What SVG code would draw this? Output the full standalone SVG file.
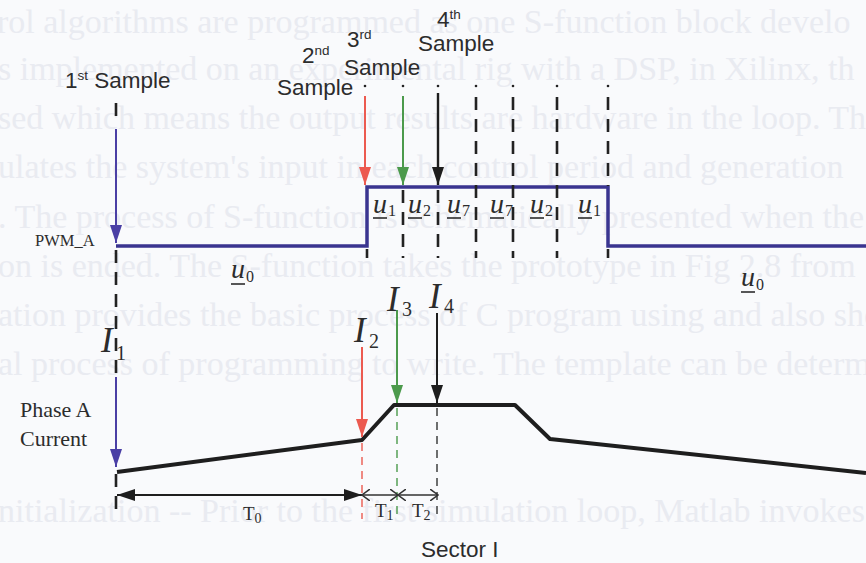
<svg xmlns="http://www.w3.org/2000/svg" width="866" height="563" viewBox="0 0 866 563">
<style>
.bg{font-family:"Liberation Serif","Times New Roman",serif;font-size:34px;fill:#e9ebf1}
.sans{font-family:"Liberation Sans",Arial,sans-serif;font-size:22.5px;fill:#2c2c2c}
.sup{font-size:13.5px}
.serif{font-family:"Liberation Serif","Times New Roman",serif;fill:#2c2c2c}
.u{font-style:italic;font-size:28px}
.sub{font-size:16px}
.I{font-style:italic;font-size:35px}
.isub{font-size:20px}
.dash{stroke:#222;stroke-width:2.6;stroke-dasharray:13 9;fill:none}
.thin{stroke-width:1.4;stroke-dasharray:8 6;fill:none}
.ul{stroke:#2c2c2c;stroke-width:1.6}
.dot{fill:#222}
</style>
<defs>
<marker id="ab" viewBox="0 0 18 12" refX="18" refY="6" markerWidth="18" markerHeight="12" markerUnits="userSpaceOnUse" orient="auto"><path d="M0,0 L18,6 L0,12 z" fill="#4a3fa5"/></marker>
<marker id="ar" viewBox="0 0 18 12" refX="18" refY="6" markerWidth="18" markerHeight="12" markerUnits="userSpaceOnUse" orient="auto"><path d="M0,0 L18,6 L0,12 z" fill="#ec5a50"/></marker>
<marker id="ag" viewBox="0 0 18 12" refX="18" refY="6" markerWidth="18" markerHeight="12" markerUnits="userSpaceOnUse" orient="auto"><path d="M0,0 L18,6 L0,12 z" fill="#4c9a4c"/></marker>
<marker id="ak" viewBox="0 0 18 12" refX="18" refY="6" markerWidth="18" markerHeight="12" markerUnits="userSpaceOnUse" orient="auto"><path d="M0,0 L18,6 L0,12 z" fill="#1e1e1e"/></marker>
<marker id="tk" viewBox="0 0 18 12" refX="18" refY="6" markerWidth="18" markerHeight="12" markerUnits="userSpaceOnUse" orient="auto-start-reverse"><path d="M0,0 L18,6 L0,12 z" fill="#1e1e1e"/></marker>
<marker id="oc" viewBox="0 0 9 12" refX="8" refY="6" markerWidth="9" markerHeight="12" markerUnits="userSpaceOnUse" orient="auto-start-reverse"><path d="M0,0 L8,6 L0,12" fill="none" stroke="#333" stroke-width="1.5"/></marker>
</defs>
<rect width="866" height="563" fill="#f9fafc"/>

<g id="background-text" class="bg">
<text x="-3" y="33">rol algorithms are programmed as one S-function block develo</text>
<text x="-2" y="80">s implemented on an experimental rig with a DSP, in Xilinx, th</text>
<text x="-2" y="129">sed which means the output results are hardware in the loop. The</text>
<text x="-2" y="178">ulates the system's input in each control period and generation</text>
<text x="-2" y="228">. The process of S-function is schematically presented when the</text>
<text x="-2" y="277">on is ended. The S-function takes the prototype in Fig 2.8 from</text>
<text x="-2" y="326">ation provides the basic process of C program using and also sho</text>
<text x="-2" y="375">al process of programming to write. The template can be determin</text>
<text x="-2" y="522">nitialization -- Prior to the first simulation loop, Matlab invokes</text>
</g>

<g id="pwm-signal">
<path d="M116,246 H367 V187 H608 V246 H866" fill="none" stroke="#3a3590" stroke-width="3.5"/>
<text class="serif" x="35" y="246" font-size="16.5">PWM_A</text>
</g>

<g id="current-signal">
<path d="M117,472 L362,440 L394,405 L515,405 L550,439 L866,473" fill="none" stroke="#1e1e1e" stroke-width="4" stroke-linejoin="round"/>
<text class="serif" x="20" y="417" font-size="22">Phase A</text>
<text class="serif" x="20" y="446" font-size="22">Current</text>
</g>

<g id="sample-labels" class="sans">
<text x="65" y="88">1<tspan class="sup" dy="-8">st</tspan><tspan dy="8"> Sample</tspan></text>
<text x="302" y="63">2<tspan class="sup" dy="-8">nd</tspan></text>
<text x="277" y="95">Sample</text>
<text x="347" y="47">3<tspan class="sup" dy="-8">rd</tspan></text>
<text x="344" y="75">Sample</text>
<text x="437" y="27">4<tspan class="sup" dy="-8">th</tspan></text>
<text x="418" y="51">Sample</text>
</g>

<g id="connectors">
<g class="dot">
<circle cx="365" cy="86" r="1.3"/><circle cx="403" cy="86" r="1.3"/><circle cx="438" cy="86" r="1.3"/>
<circle cx="476" cy="86" r="1.3"/><circle cx="513" cy="86" r="1.3"/><circle cx="557" cy="86" r="1.3"/><circle cx="608" cy="86" r="1.3"/>
</g>
<line x1="116" y1="103" x2="116" y2="116" stroke="#222" stroke-width="2.6"/>
<line x1="116" y1="129" x2="116" y2="243" stroke="#4a3fa5" stroke-width="2" marker-end="url(#ab)"/>
<path class="dash" d="M116,250 V377"/>
<line x1="116" y1="377" x2="116" y2="467" stroke="#4a3fa5" stroke-width="2" marker-end="url(#ab)"/>
<path class="dash" d="M116,474 V516" stroke-dasharray="16 8"/>
<line x1="365" y1="96" x2="365" y2="185" stroke="#ec5a50" stroke-width="2" marker-end="url(#ar)"/>
<path class="dash" d="M367,249 V258"/>
<line x1="362" y1="347" x2="362" y2="437" stroke="#ec5a50" stroke-width="2" marker-end="url(#ar)"/>
<path class="thin" d="M362,443 V519" stroke="#ec5a50"/>
<line x1="403" y1="96" x2="403" y2="185" stroke="#4c9a4c" stroke-width="2" marker-end="url(#ag)"/>
<path class="dash" d="M403,190 V258"/>
<line x1="397" y1="310" x2="397" y2="403" stroke="#4c9a4c" stroke-width="2" marker-end="url(#ag)"/>
<path class="thin" d="M397,408 V520" stroke="#4c9a4c"/>
<line x1="438" y1="93" x2="438" y2="185" stroke="#1e1e1e" stroke-width="2.4" marker-end="url(#ak)"/>
<path class="dash" d="M438,190 V258"/>
<line x1="437" y1="313" x2="437" y2="403" stroke="#1e1e1e" stroke-width="2" marker-end="url(#ak)"/>
<path class="thin" d="M437,408 V520" stroke="#333"/>
<path class="dash" d="M476,97 V258"/>
<path class="dash" d="M513,97 V258"/>
<path class="dash" d="M557,97 V258"/>
<path class="dash" d="M608,97 V186"/>
<path class="dash" d="M608,249 V258"/>
<line x1="117" y1="495" x2="362" y2="495" stroke="#1e1e1e" stroke-width="2" marker-start="url(#tk)" marker-end="url(#tk)"/>
<line x1="362" y1="495" x2="398" y2="495" stroke="#333" stroke-width="1.5" marker-start="url(#oc)" marker-end="url(#oc)"/>
<line x1="398" y1="495" x2="438" y2="495" stroke="#333" stroke-width="1.5" marker-start="url(#oc)" marker-end="url(#oc)"/>
</g>

<g id="voltage-labels" class="serif">
<text class="u" x="231" y="278">u</text><text class="sub" x="246" y="282">0</text><line class="ul" x1="231" y1="284" x2="245" y2="284"/>
<text class="u" x="373" y="213">u</text><text class="sub" x="388" y="216">1</text><line class="ul" x1="373" y1="218" x2="387" y2="218"/>
<text class="u" x="408" y="213">u</text><text class="sub" x="423" y="216">2</text><line class="ul" x1="408" y1="218" x2="422" y2="218"/>
<text class="u" x="447" y="213">u</text><text class="sub" x="462" y="216">7</text><line class="ul" x1="447" y1="218" x2="461" y2="218"/>
<text class="u" x="490" y="213">u</text><text class="sub" x="505" y="216">7</text><line class="ul" x1="490" y1="218" x2="504" y2="218"/>
<text class="u" x="530" y="213">u</text><text class="sub" x="545" y="216">2</text><line class="ul" x1="530" y1="218" x2="544" y2="218"/>
<text class="u" x="578" y="213">u</text><text class="sub" x="593" y="216">1</text><line class="ul" x1="578" y1="218" x2="592" y2="218"/>
<text class="u" x="741" y="286">u</text><text class="sub" x="756" y="290">0</text><line class="ul" x1="741" y1="292" x2="755" y2="292"/>
</g>

<g id="current-labels" class="serif">
<text class="I" x="101" y="352">I</text><text class="isub" x="116" y="360">1</text>
<text class="I" x="354" y="342">I</text><text class="isub" x="369" y="348">2</text>
<text class="I" x="387" y="311">I</text><text class="isub" x="402" y="316">3</text>
<text class="I" x="429" y="308">I</text><text class="isub" x="444" y="313">4</text>
</g>

<g id="time-labels" class="serif">
<text x="243" y="520" font-size="19">T<tspan font-size="14" dy="3">0</tspan></text>
<text x="375" y="517" font-size="19">T<tspan font-size="14" dy="3">1</tspan></text>
<text x="412" y="517" font-size="19">T<tspan font-size="14" dy="3">2</tspan></text>
<text class="sans" x="421" y="557" font-size="21">Sector I</text>
</g>
</svg>
